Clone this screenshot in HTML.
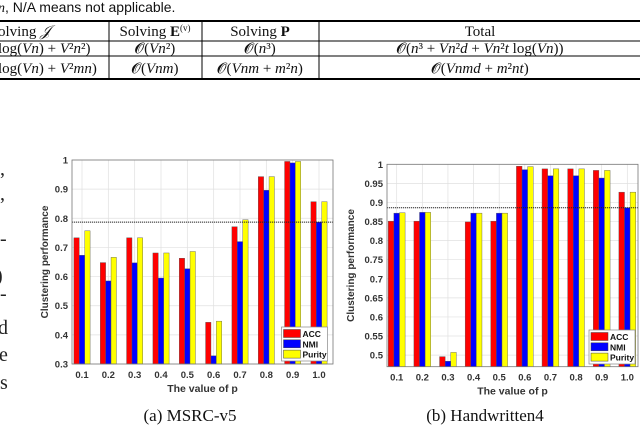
<!DOCTYPE html>
<html><head><meta charset="utf-8">
<style>
html,body{margin:0;padding:0;background:#fff;width:640px;height:427px;overflow:hidden}
svg{display:block}
.ser{font-family:"Liberation Serif",serif}
.san{font-family:"Liberation Sans",sans-serif}
</style></head>
<body>
<svg id="root" width="640" height="427" viewBox="0 0 640 427">
  <g>
    <text x="-2" y="12" class="san" font-size="14" fill="#111"><tspan font-style="italic" class="ser">n</tspan>, N/A means not applicable.</text>
  </g>
  <g class="ser" font-size="15" fill="#111">
    <line x1="0" y1="21" x2="640" y2="21" stroke="#000" stroke-width="2"/>
    <line x1="0" y1="41" x2="640" y2="41" stroke="#000" stroke-width="1"/>
    <line x1="0" y1="56" x2="640" y2="56" stroke="#000" stroke-width="1"/>
    <line x1="0" y1="79" x2="640" y2="79" stroke="#000" stroke-width="2"/>
    <line x1="109" y1="21" x2="109" y2="79" stroke="#000"/>
    <line x1="202" y1="21" x2="202" y2="79" stroke="#000"/>
    <line x1="319" y1="21" x2="319" y2="79" stroke="#000"/>
    <text x="-2" y="36">olving <tspan font-style="italic">𝒥</tspan></text>
    <text x="155" y="36" text-anchor="middle">Solving <tspan font-weight="bold">E</tspan><tspan font-size="9" dy="-5">(v)</tspan></text>
    <text x="260" y="36" text-anchor="middle">Solving <tspan font-weight="bold">P</tspan></text>
    <text x="480" y="36" text-anchor="middle">Total</text>
    <text x="-2" y="53">log(<tspan font-style="italic">Vn</tspan>) + <tspan font-style="italic">V</tspan>²<tspan font-style="italic">n</tspan>²)</text>
    <text x="155" y="53" text-anchor="middle">𝓞(<tspan font-style="italic">Vn</tspan>²)</text>
    <text x="260" y="53" text-anchor="middle">𝓞(<tspan font-style="italic">n</tspan>³)</text>
    <text x="480" y="53" text-anchor="middle">𝓞(<tspan font-style="italic">n</tspan>³ + <tspan font-style="italic">Vn</tspan>²<tspan font-style="italic">d</tspan> + <tspan font-style="italic">Vn</tspan>²<tspan font-style="italic">t</tspan> log(<tspan font-style="italic">Vn</tspan>))</text>
    <text x="-2" y="73">log(<tspan font-style="italic">Vn</tspan>) + <tspan font-style="italic">V</tspan>²<tspan font-style="italic">mn</tspan>)</text>
    <text x="155" y="73" text-anchor="middle">𝓞(<tspan font-style="italic">Vnm</tspan>)</text>
    <text x="260" y="73" text-anchor="middle">𝓞(<tspan font-style="italic">Vnm</tspan> + <tspan font-style="italic">m</tspan>²<tspan font-style="italic">n</tspan>)</text>
    <text x="480" y="73" text-anchor="middle">𝓞(<tspan font-style="italic">Vnmd</tspan> + <tspan font-style="italic">m</tspan>²<tspan font-style="italic">nt</tspan>)</text>
  </g>
  <g class="ser" font-size="20" fill="#222">
    <text x="0" y="175">,</text>
    <text x="0" y="200">,</text>
    <text x="0" y="245">-</text>
    <text x="-4" y="282">)</text>
    <text x="0" y="300">-</text>
    <text x="-2" y="334">d</text>
    <text x="-1" y="361">e</text>
    <text x="0" y="389">s</text>
  </g>
  <g id="c1"></g>
  <g id="c2"></g>
  <text x="190" y="421" class="ser" font-size="17" text-anchor="middle" fill="#111">(a)  MSRC-v5</text>
  <text x="485" y="421" class="ser" font-size="17" text-anchor="middle" fill="#111">(b)  Handwritten4</text>
</svg>
<script>
const categories = ["0.1","0.2","0.3","0.4","0.5","0.6","0.7","0.8","0.9","1.0"];
const seriesNames = ["ACC","NMI","Purity"];
const msrcACC = [0.733,0.648,0.733,0.681,0.663,0.443,0.771,0.943,0.995,0.857];
const msrcNMI = [0.673,0.585,0.647,0.595,0.627,0.328,0.720,0.896,0.990,0.787];
const msrcPurity = [0.757,0.666,0.733,0.681,0.686,0.447,0.795,0.943,0.995,0.857];
const msrcTicks = ["0.3","0.4","0.5","0.6","0.7","0.8","0.9","1"];
const msrcBaseline = 0.787;
const hwACC = [0.851,0.851,0.496,0.849,0.851,0.995,0.988,0.988,0.984,0.927];
const hwNMI = [0.872,0.874,0.484,0.872,0.872,0.986,0.970,0.970,0.964,0.886];
const hwPurity = [0.873,0.874,0.507,0.872,0.872,0.994,0.988,0.988,0.984,0.927];
const hwTicks = ["0.5","0.55","0.6","0.65","0.7","0.75","0.8","0.85","0.9","0.95","1"];
const hwBaseline = 0.886;

const NS="http://www.w3.org/2000/svg";
function mk(tag,attrs,parent){const e=document.createElementNS(NS,tag);for(const k in attrs)e.setAttribute(k,attrs[k]);if(parent)parent.appendChild(e);return e;}
const colors=["#ff0000","#0000ff","#ffff00"];

function drawChart(g,cfg){
  const {L,R,T,B,ymin,ymax,x0,x1,bw,series,ticks,baseline,leg}=cfg;
  const ys=v=>B-(v-ymin)/(ymax-ymin)*(B-T);
  const xs=i=>x0+i*(x1-x0)/(categories.length-1);
  mk('rect',{x:L,y:T,width:R-L,height:B-T,fill:'#fff'},g);
  ticks.forEach(t=>{
    const y=ys(parseFloat(t));
    const gl=mk('line',{x1:L,x2:R,y1:y,y2:y,stroke:'#e0e0e0','stroke-width':0.7},g);
    
    
    const tx=mk('text',{x:L-4,y:y+3.5,'text-anchor':'end','font-size':9.5,'font-weight':'bold',fill:'#333',class:'san'},g);
    tx.textContent=t;
    
    
  });
  categories.forEach((c,i)=>{
    const x=xs(i);
    mk('line',{x1:x,x2:x,y1:T,y2:B,stroke:'#e0e0e0','stroke-width':0.7},g);
    series.forEach((s,k)=>{
      const v=s[i];const y=Math.max(ys(v),T);
      const r=mk('rect',{x:x+(k-1.5)*bw,y:y,width:bw,height:B-y,fill:colors[k],stroke:'#555','stroke-width':0.4},g);
      
      
    });
    const tx=mk('text',{x:x,y:B+14,'text-anchor':'middle','font-size':9.5,'font-weight':'bold',fill:'#333',class:'san'},g);
    tx.textContent=c;
    
    
  });
  const bl=mk('line',{x1:L,x2:R,y1:ys(baseline),y2:ys(baseline),stroke:'#222','stroke-width':1,'stroke-dasharray':'1.2,0.8'},g);
  
  
  mk('rect',{x:L,y:T,width:R-L,height:B-T,fill:'none',stroke:'#777','stroke-width':0.8},g);
  const xt=mk('text',{x:(L+R)/2,y:B+28,'text-anchor':'middle','font-size':10.5,'font-weight':'bold',fill:'#333',class:'san'},g);
  xt.textContent='The value of p';
  
  
  const yt=mk('text',{x:0,y:0,'text-anchor':'middle','font-size':10,'font-weight':'bold',fill:'#333',class:'san',transform:`translate(${cfg.ytx},${(T+B)/2}) rotate(-90)`},g);
  yt.textContent='Clustering performance';
  
  
  const lg=mk('g',{},g);
  
  
  mk('rect',{x:leg[0],y:leg[1],width:46,height:34,fill:'#fff',stroke:'#888','stroke-width':0.7},lg);
  seriesNames.forEach((n,k)=>{
    const e=mk('g',{},lg);
    
    
    mk('rect',{x:leg[0]+2,y:leg[1]+2.5+k*10.3,width:17,height:8,fill:colors[k],stroke:'#444','stroke-width':0.5},e);
    const t=mk('text',{x:leg[0]+21,y:leg[1]+10+k*10.3,'font-size':8.5,'font-weight':'bold',fill:'#111',class:'san'},e);
    t.textContent=n;
  });
}
drawChart(document.getElementById('c1'),{L:72,R:333,T:160,B:364,ymin:0.3,ymax:1,x0:82,x1:319,bw:5.4,
  series:[msrcACC,msrcNMI,msrcPurity],ticks:msrcTicks,baseline:msrcBaseline,leg:[281.5,327],ytx:48});
drawChart(document.getElementById('c2'),{L:387,R:638,T:164.3,B:366.7,ymin:0.4696,ymax:1,x0:396.7,x1:627.3,bw:5.6,
  series:[hwACC,hwNMI,hwPurity],ticks:hwTicks,baseline:hwBaseline,leg:[589,330],ytx:354});
</script>
</body></html>
